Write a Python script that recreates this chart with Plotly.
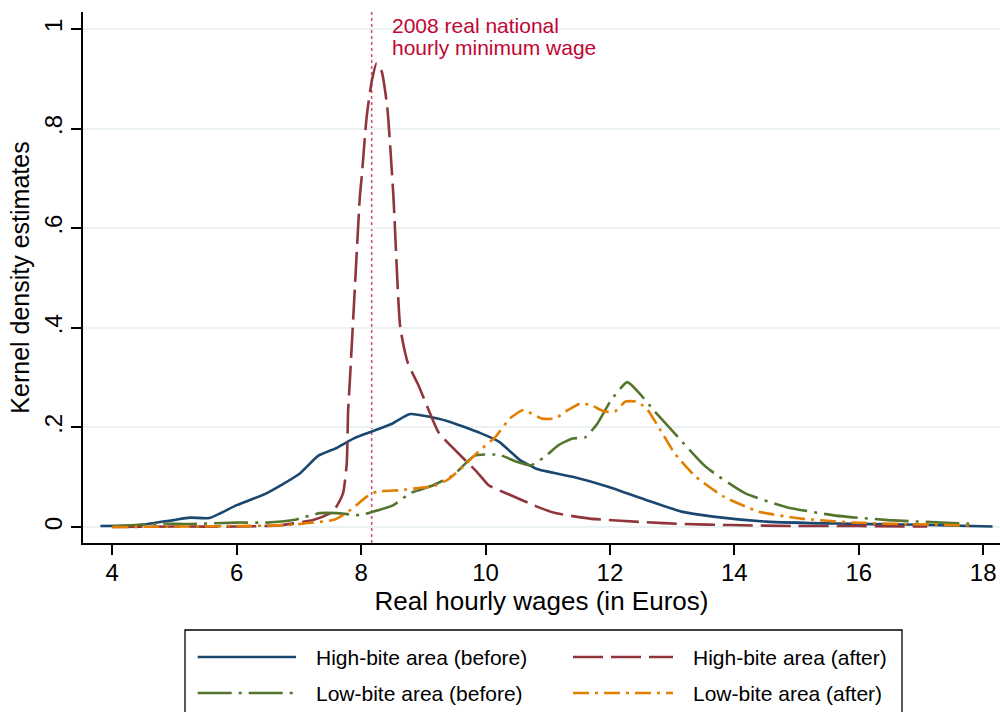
import plotly.graph_objects as go

# ---- data ----
hb_before_x = [3.81, 4.45, 4.98, 5.25, 5.56, 6.0, 6.45, 7.0, 7.31, 7.61, 7.90, 8.49, 8.79, 9.38, 9.91,
               10.22, 10.55, 10.84, 11.40, 11.97, 12.59, 13.15, 13.66, 14.51, 15.64, 16.76, 18.15]
hb_before_y = [0.002, 0.004, 0.014, 0.019, 0.018, 0.044, 0.066, 0.106, 0.143, 0.159, 0.179, 0.207, 0.227, 0.213, 0.189,
               0.171, 0.135, 0.116, 0.101, 0.081, 0.054, 0.031, 0.021, 0.011, 0.007, 0.005, 0.001]

hb_after_x = [4.0, 5.0, 6.0, 6.64, 7.23, 7.55, 7.71, 7.77, 7.79, 7.82, 7.90, 7.98, 8.01, 8.09, 8.17, 8.25, 8.33,
              8.42, 8.52, 8.63, 8.75, 8.92, 9.24, 9.38, 9.86, 10.05, 10.33, 10.89, 11.12, 11.68, 12.53, 13.2,
              13.94, 15.0, 16.0, 17.1]
hb_after_y = [0.0, 0.001, 0.001, 0.003, 0.014, 0.031, 0.068, 0.129, 0.229, 0.295, 0.48, 0.663, 0.703, 0.824, 0.894,
              0.931, 0.915, 0.844, 0.663, 0.40, 0.33, 0.285, 0.191, 0.171, 0.111, 0.084, 0.068, 0.038, 0.028, 0.017,
              0.010, 0.006, 0.004, 0.002, 0.002, 0.001]

lb_before_x = [4.0, 4.77, 5.25, 6.0, 6.48, 6.91, 7.34, 7.61, 7.98, 8.20, 8.52, 8.79, 9.16, 9.48, 9.82, 10.22,
               10.50, 10.73, 10.95, 11.18, 11.40, 11.60, 11.80, 12.02, 12.28, 12.50, 12.70, 13.04, 13.54, 14.17,
               14.84, 15.63, 16.48, 17.33, 17.89]
lb_before_y = [0.001, 0.007, 0.006, 0.009, 0.009, 0.014, 0.028, 0.028, 0.024, 0.031, 0.044, 0.068, 0.084, 0.104,
               0.143, 0.145, 0.131, 0.124, 0.141, 0.165, 0.178, 0.180, 0.208, 0.255, 0.291, 0.265, 0.235, 0.188,
               0.121, 0.068, 0.040, 0.023, 0.014, 0.009, 0.006]

lb_after_x = [4.0, 5.0, 6.0, 6.8, 7.23, 7.55, 7.71, 7.87, 8.09, 8.25, 8.63, 8.89, 9.16, 9.38, 9.64, 9.88, 10.16,
              10.39, 10.61, 10.90, 11.12, 11.29, 11.52, 11.69, 11.91, 12.08, 12.25, 12.42, 12.59, 12.81, 13.04,
              13.38, 13.83, 14.39, 15.07, 15.92, 16.76, 17.78]
lb_after_y = [0.0, 0.001, 0.002, 0.004, 0.009, 0.014, 0.024, 0.038, 0.061, 0.071, 0.074, 0.078, 0.082, 0.094,
              0.121, 0.151, 0.181, 0.218, 0.235, 0.218, 0.218, 0.232, 0.248, 0.245, 0.232, 0.232, 0.252, 0.252,
              0.238, 0.195, 0.148, 0.101, 0.061, 0.031, 0.017, 0.009, 0.006, 0.003]

series_names = ["High-bite area (before)", "High-bite area (after)",
                "Low-bite area (before)", "Low-bite area (after)"]
min_wage = 8.17
annotation_lines = ["2008 real national", "hourly minimum wage"]
x_ticks = [4, 6, 8, 10, 12, 14, 16, 18]
y_ticks = [0, 0.2, 0.4, 0.6, 0.8, 1.0]
y_ticktext = ["0", ".2", ".4", ".6", ".8", "1"]

FONT = "Liberation Sans, Arial, sans-serif"
colors = ["#1A476F", "#90353B", "#55752F", "#E37E00"]
dashes = ["solid", "30px,8px", "34px,7px,3px,7px", "16px,6px,3px,6px"]
xs_all = [hb_before_x, hb_after_x, lb_before_x, lb_after_x]
ys_all = [hb_before_y, hb_after_y, lb_before_y, lb_after_y]

# plot-area geometry (pixels) used to place the legend box below the axes
L, R, T, B = 83, 1000, 12, 543
def px(xp):
    return (xp - L) / (R - L)
def py(yp):
    return (B - yp) / (B - T)

fig = go.Figure()
for name, xs, ys, col, dash in zip(series_names, xs_all, ys_all, colors, dashes):
    fig.add_trace(go.Scatter(x=xs, y=ys, mode="lines", name=name, showlegend=False,
                             line=dict(color=col, width=2.6, dash=dash, shape="spline", smoothing=0.5)))

fig.add_shape(type="line", xref="x", yref="paper", x0=min_wage, x1=min_wage, y0=0, y1=1,
              line=dict(color="#D2537A", width=1.6, dash="dot"), layer="below")
for i, (txt, yp) in enumerate(zip(annotation_lines, [25, 47])):
    fig.add_annotation(x=8.46, y=py(yp), xref="x", yref="paper", xanchor="left", yanchor="middle",
                       text=txt, showarrow=False, align="left",
                       font=dict(family=FONT, size=21, color="#C10534"))

# legend (two columns, Stata style)
fig.add_shape(type="rect", xref="paper", yref="paper", x0=px(185), x1=px(902), y0=py(630), y1=py(760),
              line=dict(color="black", width=1.3), fillcolor="white")
leg_pos = [(197.7, 296, 314, 657), (573, 673, 691, 657), (197.7, 296, 314, 693), (573, 673, 691, 693)]
for name, col, dash, (lx0, lx1, tx, ly) in zip(series_names, colors, dashes, leg_pos):
    fig.add_shape(type="line", xref="paper", yref="paper", x0=px(lx0), x1=px(lx1), y0=py(ly), y1=py(ly),
                  line=dict(color=col, width=2.6, dash=dash))
    fig.add_annotation(x=px(tx), y=py(ly), xref="paper", yref="paper", xanchor="left", yanchor="middle",
                       text=name, showarrow=False, font=dict(family=FONT, size=21, color="black"))

fig.update_layout(
    width=1000, height=712,
    margin=dict(l=L, r=1000 - R, t=T, b=712 - B),
    paper_bgcolor="white", plot_bgcolor="white",
    font=dict(family=FONT, color="black"),
    showlegend=False,
)
fig.update_xaxes(range=[3.53, 18.27], tickvals=x_ticks, showgrid=False, zeroline=False,
                 showline=True, linecolor="black", linewidth=1.5, ticks="outside", ticklen=10,
                 tickwidth=1.5, tickcolor="black", tickfont=dict(size=24), ticklabelstandoff=-3,
                 title=dict(text="Real hourly wages (in Euros)", font=dict(size=26), standoff=6))
fig.update_yaxes(range=[-0.032, 1.034], tickvals=y_ticks, ticktext=y_ticktext, tickangle=-90,
                 showgrid=True, gridcolor="#EAF2F3", gridwidth=1.5, zeroline=False,
                 showline=True, linecolor="black", linewidth=1.5, ticks="outside", ticklen=10,
                 tickwidth=1.5, tickcolor="black", tickfont=dict(size=24),
                 title=dict(text="Kernel density estimates", font=dict(size=25), standoff=3))

fig.write_html("out.html")
